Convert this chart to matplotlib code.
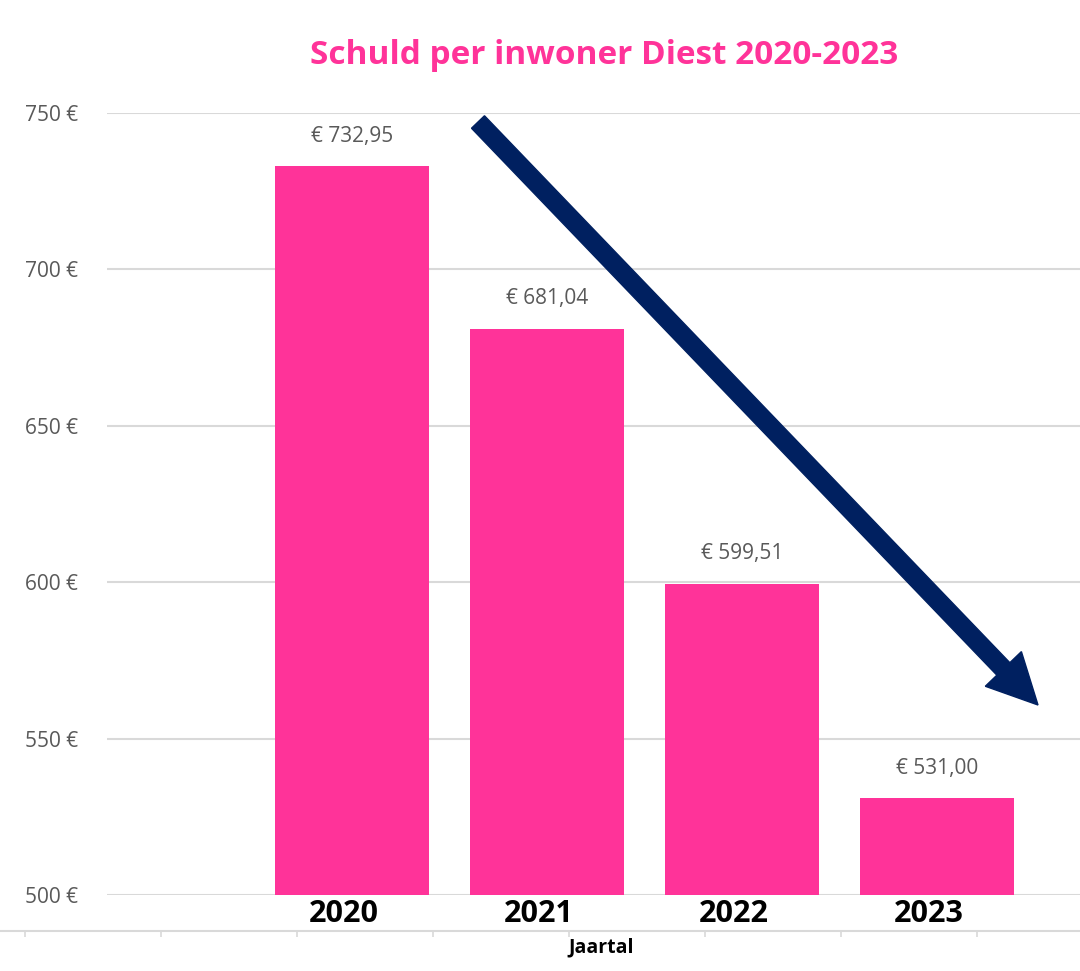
import matplotlib
matplotlib.use("Agg")
import matplotlib.pyplot as plt
from matplotlib.patches import FancyArrow
import matplotlib.transforms as mtransforms

years = ["2020", "2021", "2022", "2023"]
values = [732.95, 681.04, 599.51, 531.00]
yticks = [500, 550, 600, 650, 700, 750]
title = "Schuld per inwoner Diest 2020-2023"
xlabel = "Jaartal"

PINK = "#FF3399"
NAVY = "#002060"
GRID = "#D9D9D9"
GREY = "#595959"

plt.rcParams['font.family'] = ['Open Sans', 'DejaVu Sans']

W, H = 1080, 971
fig = plt.figure(figsize=(W / 100, H / 100), dpi=100)

# main axes
left, right, top, bottom = 107, 1080, 113, 895
ax = fig.add_axes([left / W, 1 - bottom / H, (right - left) / W, (bottom - top) / H])
x = list(range(len(years)))
ax.bar(x, values, width=0.785, color=PINK, zorder=2)
ax.set_xlim(-1.256, 3.733)
ax.set_ylim(500, 750)
ax.set_yticks(yticks)
ax.set_yticklabels([f"{v} €" for v in yticks], color=GREY, fontsize=15)
ax.tick_params(axis='y', length=0, pad=21)
ax.set_xticks([])
ax.grid(axis='y', color=GRID, linewidth=1.5, zorder=0)
for s in ax.spines.values():
    s.set_visible(False)

for xi, v in zip(x, values):
    lab = "€ " + f"{v:.2f}".replace(".", ",")
    ax.annotate(lab, (xi, v), xytext=(0, 30), textcoords='offset pixels',
                ha='center', va='center', color=GREY, fontsize=15)

trans = mtransforms.blended_transform_factory(ax.transData, ax.transAxes)
for xi, yr in zip(x, years):
    ax.text(xi - 0.04, -19 / (bottom - top), yr, transform=trans, ha='center', va='center',
            fontsize=22, fontweight='bold', color='black', clip_on=False)

# bottom category axis
bax = fig.add_axes([0, 1 - 931 / H, 1, 0.0001])
bax.set_xlim(0, W)
bax.set_ylim(0, 1)
bax.set_xticks([25 + 136 * k for k in range(8)])
bax.set_xticklabels([])
bax.set_yticks([])
bax.tick_params(axis='x', length=4, color=GRID, width=1.2, direction='out')
for k, s in bax.spines.items():
    s.set_visible(k == 'bottom')
bax.spines['bottom'].set_color(GRID)
bax.spines['bottom'].set_linewidth(1.5)
bax.patch.set_visible(False)

fig.text(601 / W, 1 - 947 / H, xlabel, ha='center', va='center', fontsize=14,
         fontweight='bold', color='black')

fig.text(604 / W, 1 - 55 / H, title, ha='center', va='center', fontsize=24,
         fontweight='bold', color=PINK)

# trend arrow (pixels -> inches)
x0, y0 = 478 / 100, (H - 122) / 100
x1, y1 = 1038 / 100, (H - 705) / 100
arrow = FancyArrow(x0, y0, x1 - x0, y1 - y0, width=0.18, head_width=0.50,
                   head_length=0.50, length_includes_head=True,
                   color=NAVY, transform=fig.dpi_scale_trans)
fig.add_artist(arrow)

fig.savefig("out.png", dpi=100, facecolor='white')
